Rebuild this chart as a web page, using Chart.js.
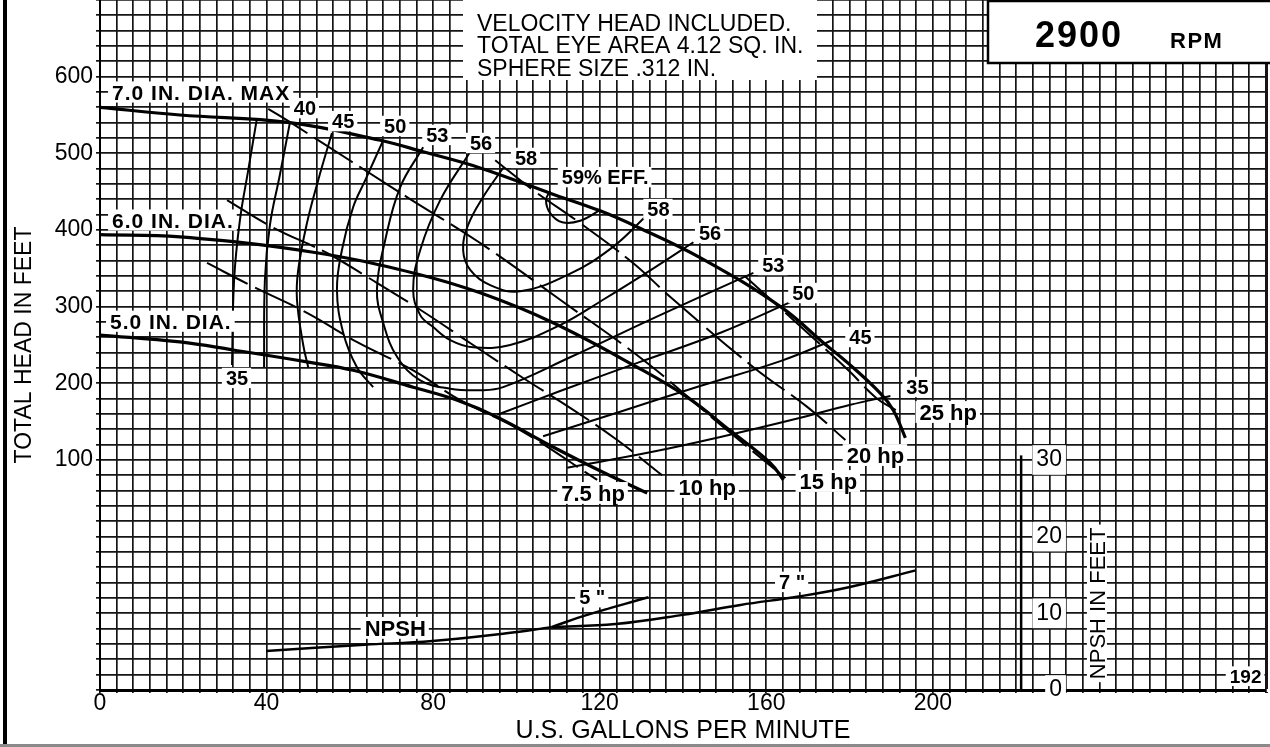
<!DOCTYPE html>
<html>
<head>
<meta charset="utf-8">
<title>Pump performance 2900 RPM</title>
<script src="https://cdn.jsdelivr.net/npm/chart.js@4.4.1/dist/chart.umd.min.js"></script>
<style>
  html, body { margin: 0; padding: 0; background: #fff; }
  canvas { display: block; }
</style>
</head>
<body>
<canvas id="pumpChart" width="1270" height="747"></canvas>
<script>
// axis labels
const flowTicks = [0, 40, 80, 120, 160, 200];
const headTicks = [100, 200, 300, 400, 500, 600];
const npshTicks = [0, 10, 20, 30];

// impeller diameter curves, [gpm, head ft]
const dia7 = [[0,560],[19.2,550],[45.6,540],[67.3,517],[77.6,502],[91.3,481],[108.1,448],[120.1,425],[129,404],[144.1,364],[163.4,300],[173.7,253],[179.5,227],[187.4,187],[190.5,165],[193.4,129]];
const dia6 = [[0,394],[19.2,391],[51.2,371],[75.2,344],[91.3,318],[108.8,279],[129,221],[141,182],[151.4,138],[161,96],[164.1,74]];
const dia5 = [[0,263],[19.2,254],[32,243.5],[49.7,228],[60.8,217],[75.2,195],[85.8,178],[95.4,156],[108.8,117],[120.8,84],[131.4,57]];

// horsepower lines
const hp7_5 = [[25.7,357],[36.8,326],[49.7,292],[62,253],[75.2,217],[86.5,178],[100.9,139],[119.4,74]];
const hp10 = [[30.5,439],[41.3,404],[54.5,370],[64.1,339],[76.9,296],[89.6,250],[101.6,207],[112.9,168],[124.2,126],[135,80]];
const hp15 = [[40.4,558],[46.4,538],[74,442],[91.3,383],[110.5,309],[131.4,226.5],[147.7,152],[164.6,76.5]];
const hp20 = [[94.9,491],[104,452],[115.3,409],[128,357],[136.9,313],[156.9,221],[169.9,169],[179,126]];
const hp25 = [[155,339],[171.8,256.5],[179.9,216],[186.4,181],[191.1,165]];

// efficiency contours
const eff35L = [[37.7,546],[35.6,478],[33.6,413],[32.2,335],[31.7,224]];
const eff40L = [[45.6,540],[43.2,472],[40.8,406.5],[39.6,335],[39.4,221]];
const eff45L = [[55.7,526.5],[52.4,465],[49.7,409],[47.6,348],[47.3,309],[48.8,250],[50,221]];
const eff50L = [[68,517],[63.7,465],[60.8,430],[58.1,374],[56.9,322],[58.4,266],[61.7,221],[65.6,195]];
const eff53 = [[77.6,508],[72.1,456],[68.5,387],[66.5,322],[68,279],[71.4,234],[76.9,204],[84.1,193],[91.3,191],[96.8,195],[112.9,234],[134.5,289],[156.9,344]];
const eff56 = [[88.9,502],[81.7,439],[76.9,374],[75.2,322],[76.9,289],[80,273.5],[84.1,256.5],[89.6,247],[98.5,250],[110.5,276],[120.8,309],[132.9,350],[142.5,384]];
const eff58 = [[96.8,481],[92,443],[88.4,406.5],[87.2,374],[88.9,348],[93.7,328],[100.9,320],[112.9,343],[123.2,378],[130.9,417]];
const eff59 = [[108.1,451],[107.1,439],[108.1,422],[111,410],[115.3,412],[120.1,426]];
const eff50R = [[95.4,159],[110.5,190],[129.7,228],[149,266],[165.8,306]];
const eff45R = [[106.4,131],[124.9,163],[144.1,196.5],[163.4,229],[176.1,256.5]];
const eff35R = [[112.2,90],[132.1,110],[149,130],[168.2,155],[180.2,172],[189.8,183.5]];

// NPSH required, [gpm, ft]
const npshCommon = [[39.9,5.1],[63.5,5.9],[79.8,6.4],[97.6,7.4],[108.4,8.2]];
const npsh5 = [[108.4,8.2],[117,9.8],[131.7,12.1]];
const npsh7 = [[108.4,8.2],[123.8,8.6],[139.9,9.8],[153.8,11.1],[167.8,12.2],[179.8,13.4],[195.9,15.6]];

// text placed on the plot, in axis units
const curveLabels = [
  { text: '7.0 IN. DIA. MAX', gpm: 2.9, val: 580, size: 21, spacing: 1, align: 'left' },
  { text: '6.0 IN. DIA.', gpm: 2.9, val: 413, size: 21, spacing: 1, align: 'left' },
  { text: '5.0 IN. DIA.', gpm: 2.4, val: 281, size: 21, spacing: 1, align: 'left' },
  { text: '40', gpm: 49.2, val: 559, size: 20 },
  { text: '45', gpm: 58.4, val: 542, size: 20 },
  { text: '50', gpm: 70.9, val: 535.7, size: 20 },
  { text: '53', gpm: 81, val: 524, size: 20 },
  { text: '56', gpm: 91.5, val: 513.5, size: 20 },
  { text: '58', gpm: 102.3, val: 494, size: 20 },
  { text: '59% EFF.', gpm: 121.3, val: 469, size: 20 },
  { text: '58', gpm: 134.1, val: 427.4, size: 20 },
  { text: '56', gpm: 146.5, val: 396, size: 20 },
  { text: '53', gpm: 161.7, val: 354.3, size: 20 },
  { text: '50', gpm: 168.9, val: 317.8, size: 20 },
  { text: '45', gpm: 182.6, val: 260.4, size: 20 },
  { text: '35', gpm: 196.3, val: 195.2, size: 20 },
  { text: '35', gpm: 32.9, val: 207, size: 20 },
  { text: '7.5 hp', gpm: 118.4, val: 57, size: 22 },
  { text: '10 hp', gpm: 145.8, val: 64.8, size: 22 },
  { text: '15 hp', gpm: 174.9, val: 72.6, size: 22 },
  { text: '20 hp', gpm: 186.2, val: 106.5, size: 22 },
  { text: '25 hp', gpm: 203.7, val: 162.6, size: 22 },
  { text: 'NPSH', gpm: 70.9, val: 8.1, size: 22, axis: 'y2' },
  { text: '5 "', gpm: 118.2, val: 12.1, size: 20, axis: 'y2' },
  { text: '7 "', gpm: 166.2, val: 14.1, size: 20, axis: 'y2' },
  { text: '192', gpm: 275.1, val: 1.8, size: 19, axis: 'y2' }
];

const notes = ['VELOCITY HEAD INCLUDED.', 'TOTAL EYE AREA 4.12 SQ. IN.', 'SPHERE SIZE .312 IN.'];

const FONT = '"Liberation Sans", Arial, sans-serif';
Chart.defaults.font.family = FONT;
Chart.defaults.color = '#000';

function curve(pts, width, dash, axis) {
  return {
    data: pts.map(([x, y]) => ({ x, y })),
    showLine: true,
    borderColor: '#000',
    borderWidth: width,
    borderDash: dash || [],
    pointRadius: 0,
    tension: 0.4,
    fill: false,
    yAxisID: axis || 'y'
  };
}

const hpDash = [46, 8];

const textPlugin = {
  id: 'pumpText',
  beforeDatasetsDraw(chart) {
    const { ctx, scales } = chart;
    // NPSH scale line
    const x = scales.x.getPixelForValue(221.2);
    ctx.save();
    ctx.strokeStyle = '#000';
    ctx.lineWidth = 2.5;
    ctx.beginPath();
    ctx.moveTo(x, scales.y2.getPixelForValue(0));
    ctx.lineTo(x, scales.y2.getPixelForValue(30.6));
    ctx.stroke();
    ctx.restore();
  },
  afterDatasetsDraw(chart) {
    const { ctx, scales } = chart;
    ctx.save();
    for (const lb of curveLabels) {
      const px = scales.x.getPixelForValue(lb.gpm);
      const py = scales[lb.axis || 'y'].getPixelForValue(lb.val);
      ctx.font = `bold ${lb.size}px ${FONT}`;
      ctx.letterSpacing = (lb.spacing || 0) + 'px';
      const w = ctx.measureText(lb.text).width;
      const left = lb.align === 'left' ? px : px - w / 2;
      const cap = lb.size * 0.72;
      ctx.fillStyle = '#fff';
      ctx.fillRect(left - 4, py - cap / 2 - 3, w + 7, cap + 6);
      ctx.fillStyle = '#000';
      ctx.textAlign = 'left';
      ctx.textBaseline = 'alphabetic';
      ctx.fillText(lb.text, left, py + cap / 2);
    }
    ctx.letterSpacing = '0px';

    // NPSH axis title
    const tx = scales.x.getPixelForValue(239.4);
    const ty = scales.y2.getPixelForValue(11.3);
    ctx.translate(tx, ty);
    ctx.rotate(-Math.PI / 2);
    ctx.font = `22px ${FONT}`;
    const tw = ctx.measureText('NPSH IN FEET').width;
    ctx.fillStyle = '#fff';
    ctx.fillRect(-tw / 2 - 3, -10, tw + 6, 20);
    ctx.fillStyle = '#000';
    ctx.textAlign = 'center';
    ctx.fillText('NPSH IN FEET', 0, 8);
    ctx.restore();
  },
  afterDraw(chart) {
    const { ctx } = chart;
    ctx.save();
    // notes box
    ctx.fillStyle = '#fff';
    ctx.fillRect(463, 0, 354, 80);
    ctx.fillStyle = '#000';
    ctx.font = `23px ${FONT}`;
    ctx.textAlign = 'left';
    ctx.textBaseline = 'alphabetic';
    notes.forEach((t, i) => ctx.fillText(t, 477, 30.5 + i * 22.5));

    // speed box
    ctx.fillStyle = '#fff';
    ctx.fillRect(987, 0, 283, 63);
    ctx.strokeStyle = '#000';
    ctx.lineWidth = 2.5;
    ctx.strokeRect(988, 1, 300, 62);
    ctx.fillStyle = '#000';
    ctx.font = `bold 36px ${FONT}`;
    ctx.letterSpacing = '2px';
    ctx.fillText('2900', 1035, 47);
    ctx.font = `bold 22px ${FONT}`;
    ctx.letterSpacing = '1.5px';
    ctx.fillText('RPM', 1170, 48);
    ctx.letterSpacing = '0px';

    // sheet edges
    ctx.fillStyle = '#000';
    ctx.fillRect(3, 0, 4, 747);
    ctx.fillStyle = '#8a8a8a';
    ctx.fillRect(0, 744, 1270, 3);
    ctx.restore();
  }
};

new Chart(document.getElementById('pumpChart'), {
  type: 'scatter',
  data: {
    datasets: [
      curve(dia7, 3.2), curve(dia6, 3.2), curve(dia5, 3.2),
      curve(hp7_5, 2, hpDash), curve(hp10, 2, hpDash), curve(hp15, 2, hpDash),
      curve(hp20, 2, hpDash), curve(hp25, 2, hpDash),
      curve(eff35L, 2), curve(eff40L, 2), curve(eff45L, 2), curve(eff50L, 2),
      curve(eff53, 2), curve(eff56, 2), curve(eff58, 2), curve(eff59, 2),
      curve(eff50R, 2), curve(eff45R, 2), curve(eff35R, 2),
      curve(npshCommon, 2.5, null, 'y2'), curve(npsh5, 2.5, null, 'y2'), curve(npsh7, 2.5, null, 'y2')
    ]
  },
  options: {
    responsive: false,
    animation: false,
    layout: { padding: { left: 0, top: 0, right: 4, bottom: 0 } },
    plugins: { legend: { display: false }, tooltip: { enabled: false } },
    scales: {
      x: {
        type: 'linear',
        min: 0,
        max: 280,
        ticks: {
          stepSize: 4,
          autoSkip: false,
          maxRotation: 0,
          maxTicksLimit: 1000,
          padding: 0,
          font: { size: 23, lineHeight: 0.9 },
          callback: v => flowTicks.includes(v) ? String(v) : ''
        },
        grid: {
          color: '#151515',
          lineWidth: c => (c.tick && c.tick.value === 280) ? 3 : 1.7,
          tickLength: 3
        },
        border: { color: '#000', width: 3 },
        title: { display: true, text: 'U.S. GALLONS PER MINUTE', font: { size: 25 }, padding: { top: 0, bottom: 1 } },
        afterFit(s) { s.height = 57; s.paddingLeft = 0; s.paddingRight = 0; }
      },
      y: {
        type: 'linear',
        position: 'left',
        min: -200,
        max: 700,
        ticks: {
          stepSize: 20,
          autoSkip: false,
          maxTicksLimit: 1000,
          padding: 3,
          font: { size: 23 },
          callback: v => headTicks.includes(v) ? String(v) : ''
        },
        grid: { color: '#151515', lineWidth: 1.7, tickLength: 4 },
        border: { color: '#000', width: 2 },
        title: { display: true, text: 'TOTAL HEAD IN FEET', font: { size: 23 }, padding: { top: 11, bottom: 0 } },
        afterFit(s) { s.width = 100; s.paddingTop = 0; s.paddingBottom = 0; }
      },
      y2: {
        type: 'linear',
        axis: 'y',
        position: { x: 231 },
        min: 0,
        max: 90,
        afterBuildTicks(s) { s.ticks = npshTicks.map(v => ({ value: v })); },
        ticks: {
          padding: 0,
          font: { size: 23 },
          showLabelBackdrop: true,
          backdropColor: '#fff',
          backdropPadding: { x: 4, y: 1 }
        },
        grid: { display: false },
        border: { display: false },
        afterFit(s) { s.paddingTop = 0; s.paddingBottom = 0; }
      }
    }
  },
  plugins: [textPlugin]
});
</script>
</body>
</html>
